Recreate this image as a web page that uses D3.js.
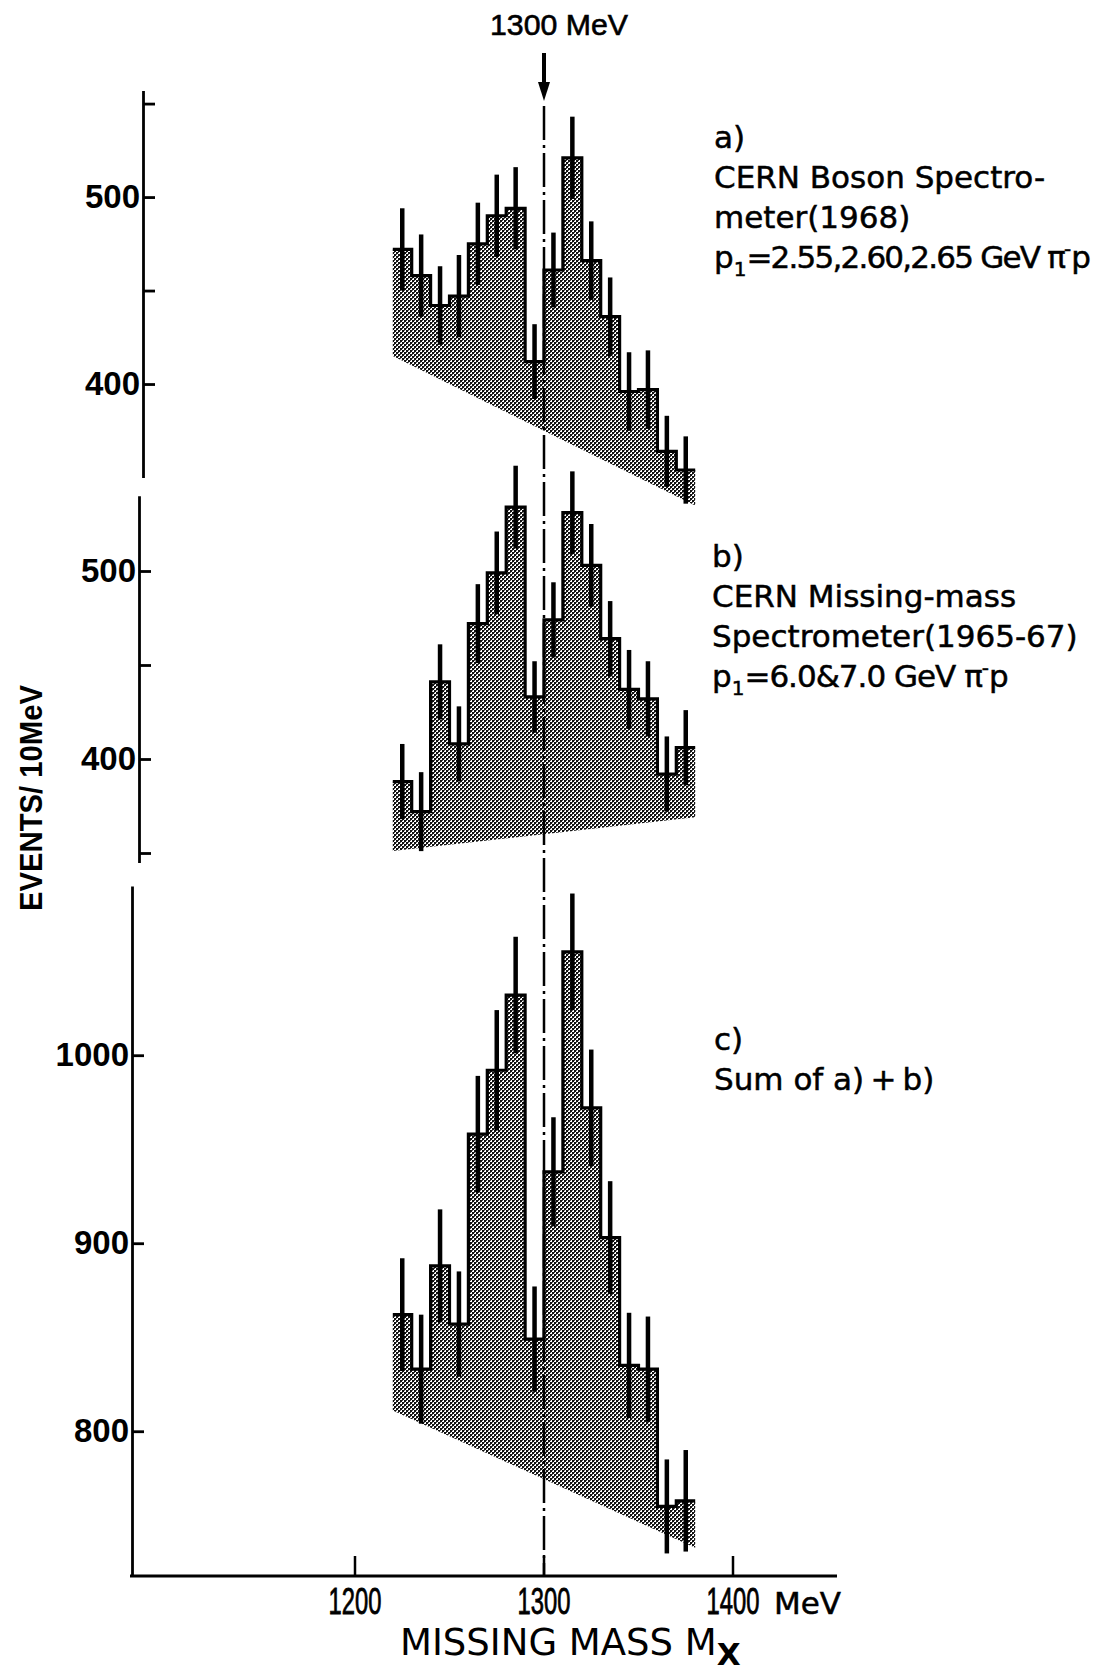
<!DOCTYPE html>
<html>
<head>
<meta charset="utf-8">
<script src="https://cdn.jsdelivr.net/npm/d3@7/dist/d3.min.js"></script>
<style>
    body { margin: 0; background: #fff; }
</style>
</head>
<body>
<div id="chart"></div>
<script>
// bin centres (MeV), 10 MeV bins
const massBins = [1225, 1235, 1245, 1255, 1265, 1275, 1285, 1295, 1305, 1315, 1325, 1335, 1345, 1355, 1365, 1375];
const binWidth = 10;

// a) CERN Boson Spectrometer
const eventsA = [472, 458, 442, 447, 475, 490, 494, 412, 461, 521, 466, 436, 396, 397, 364, 354];
const errorsA = [22, 22, 21, 22, 22, 22, 22, 20, 20, 22, 21, 21, 21, 21, 19, 18];
// b) CERN Missing-mass Spectrometer
const eventsB = [388, 372, 441, 408, 472, 499, 534, 433, 474, 531, 503, 464, 437, 432, 392, 406];
const errorsB = [20, 21, 20, 20, 21, 22, 22, 19, 20, 22, 22, 20, 21, 20, 20, 20];
// c) sum
const eventsC = [862, 833, 888, 857, 958, 992, 1032, 849, 938, 1055, 972, 903, 835, 833, 760, 763];
const errorsC = [30, 29, 30, 28, 31, 32, 31, 28, 29, 31, 31, 30, 28, 28, 25, 27];

// background lines, values at the two ends of the histogram
const backgroundMass = [1220, 1380];
const backgroundA = [415, 335];
const backgroundB = [351, 369];
const backgroundC = [811, 738];

const xTicks = [1200, 1300, 1400];
const markedMass = 1300;

const width = 1097;
const height = 1671;

const svg = d3.select("#chart")
    .append("svg")
    .attr("width", width)
    .attr("height", height)
    .style("background", "#fff");

const defs = svg.append("defs");
const pattern = defs.append("pattern")
    .attr("id", "halftone")
    .attr("patternUnits", "userSpaceOnUse")
    .attr("width", 4)
    .attr("height", 4);
pattern.append("rect").attr("x", 0).attr("y", 0).attr("width", 2).attr("height", 2).attr("fill", "#111");
pattern.append("rect").attr("x", 2).attr("y", 2).attr("width", 2).attr("height", 2).attr("fill", "#111");
pattern.append("rect").attr("x", 2).attr("y", 0).attr("width", 1).attr("height", 1).attr("fill", "#444");
pattern.append("rect").attr("x", 0).attr("y", 2).attr("width", 1).attr("height", 1).attr("fill", "#666");

const x = d3.scaleLinear().domain([1200, 1400]).range([355, 733]);
const xAxisY = 1576;

const panels = [
    {
        events: eventsA, errors: errorsA, background: backgroundA,
        y: d3.scaleLinear().domain([350, 557]).range([477.5, 90.5]),
        axisX: 143, ticks: [400, 450, 500, 550], labels: [400, 500]
    },
    {
        events: eventsB, errors: errorsB, background: backgroundB,
        y: d3.scaleLinear().domain([345, 540]).range([862.4, 495.8]),
        axisX: 139, ticks: [350, 400, 450, 500], labels: [400, 500]
    },
    {
        events: eventsC, errors: errorsC, background: backgroundC,
        y: d3.scaleLinear().domain([723, 1090]).range([1576, 886]),
        axisX: 132, ticks: [800, 900, 1000], labels: [800, 900, 1000]
    }
];

const numFont = "'Liberation Sans', Arial, sans-serif";
const textFont = "'DejaVu Sans', sans-serif";

panels.forEach(p => {
    const y = p.y;
    const g = svg.append("g");

    // shaded region between histogram and background line
    const bgScale = d3.scaleLinear().domain(backgroundMass).range(p.background);
    const steps = [];
    massBins.forEach((m, i) => {
        steps.push([x(m - binWidth / 2), y(p.events[i])]);
        steps.push([x(m + binWidth / 2), y(p.events[i])]);
    });
    const poly = steps.concat([
        [x(backgroundMass[1]), y(bgScale(backgroundMass[1]))],
        [x(backgroundMass[0]), y(bgScale(backgroundMass[0]))]
    ]);
    g.append("path")
        .attr("d", "M" + poly.map(d => d.join(",")).join("L") + "Z")
        .attr("fill", "url(#halftone)");

    // histogram outline
    const stepLine = d3.line().curve(d3.curveStepAfter);
    const stepPts = massBins.map((m, i) => [x(m - binWidth / 2), y(p.events[i])]);
    stepPts.push([x(massBins[massBins.length - 1] + binWidth / 2), y(p.events[p.events.length - 1])]);
    g.append("path")
        .attr("d", stepLine(stepPts))
        .attr("fill", "none")
        .attr("stroke", "#000")
        .attr("stroke-width", 3.2);

    // error bars
    g.selectAll("line.err")
        .data(massBins)
        .enter()
        .append("line")
        .attr("class", "err")
        .attr("x1", m => x(m))
        .attr("x2", m => x(m))
        .attr("y1", (m, i) => y(p.events[i] + p.errors[i]))
        .attr("y2", (m, i) => y(p.events[i] - p.errors[i]))
        .attr("stroke", "#000")
        .attr("stroke-width", 4.5);

    // y axis
    const axis = g.append("g")
        .attr("transform", `translate(${p.axisX},0)`)
        .call(d3.axisRight(y).tickValues(p.ticks).tickSize(12).tickSizeOuter(0).tickFormat(""));
    axis.select(".domain").attr("stroke-width", 2.8);
    axis.selectAll(".tick line").attr("stroke-width", 2.8);

    const labels = g.append("g")
        .attr("transform", `translate(${p.axisX},0)`)
        .call(d3.axisLeft(y).tickValues(p.labels).tickSize(0).tickPadding(3).tickFormat(d3.format("d")));
    labels.select(".domain").remove();
    labels.selectAll(".tick text")
        .attr("font-family", numFont)
        .attr("font-weight", "bold")
        .attr("font-size", 33)
        .attr("fill", "#000");
});

// x axis
const xAxis = svg.append("g")
    .attr("transform", `translate(0,${xAxisY})`);
xAxis.append("line")
    .attr("x1", 130).attr("x2", 837)
    .attr("stroke", "#000").attr("stroke-width", 3);
xAxis.selectAll("line.tick")
    .data(xTicks)
    .enter()
    .append("line")
    .attr("class", "tick")
    .attr("x1", d => x(d)).attr("x2", d => x(d))
    .attr("y1", 0).attr("y2", -20)
    .attr("stroke", "#000").attr("stroke-width", 2.5);
// condensed tick numbers
xAxis.selectAll("text.tick")
    .data(xTicks)
    .enter()
    .append("text")
    .attr("class", "tick")
    .attr("transform", d => `translate(${x(d)},38) scale(0.66,1)`)
    .attr("text-anchor", "middle")
    .attr("font-family", numFont)
    .attr("font-size", 36)
    .attr("stroke", "#000")
    .attr("stroke-width", 0.8)
    .text(d => d);
xAxis.append("text")
    .attr("x", x(1400) + 41)
    .attr("y", 38)
    .attr("font-family", textFont)
    .attr("font-size", 31)
    .attr("stroke", "#000")
    .attr("stroke-width", 0.5)
    .text("MeV");

const xTitle = svg.append("text")
    .attr("x", 400)
    .attr("y", 1655)
    .attr("font-family", textFont)
    .attr("font-size", 37)
    .attr("fill", "#000");
xTitle.append("tspan").text("MISSING MASS M");
xTitle.append("tspan").attr("dy", 10).attr("font-weight", "bold").attr("font-size", 31).text("X");

// y title
svg.append("text")
    .attr("transform", "translate(42,798) rotate(-90)")
    .attr("text-anchor", "middle")
    .attr("font-family", numFont)
    .attr("font-weight", "bold")
    .attr("font-size", 32)
    .attr("textLength", 226)
    .attr("lengthAdjust", "spacingAndGlyphs")
    .text("EVENTS/ 10MeV");

// 1300 MeV dash-dot marker line
svg.append("line")
    .attr("x1", x(markedMass)).attr("x2", x(markedMass))
    .attr("y1", 106).attr("y2", xAxisY)
    .attr("stroke", "#000")
    .attr("stroke-width", 2.5)
    .attr("stroke-dasharray", "34,5,3,5");

// arrow
svg.append("line")
    .attr("x1", x(markedMass)).attr("x2", x(markedMass))
    .attr("y1", 53).attr("y2", 86)
    .attr("stroke", "#000").attr("stroke-width", 4);
svg.append("path")
    .attr("d", `M${x(markedMass) - 6},82L${x(markedMass) + 6},82L${x(markedMass)},101Z`)
    .attr("fill", "#000");
svg.append("text")
    .attr("x", x(markedMass) + 15)
    .attr("y", 35)
    .attr("text-anchor", "middle")
    .attr("font-family", numFont)
    .attr("font-size", 30)
    .attr("stroke", "#000")
    .attr("stroke-width", 0.6)
    .attr("textLength", 138)
    .attr("lengthAdjust", "spacingAndGlyphs")
    .text("1300 MeV");

// annotations
const addNote = (x0, y0, lines) => {
    const t = svg.append("g")
        .attr("font-family", textFont)
        .attr("font-size", 31)
        .attr("fill", "#000")
        .attr("stroke", "#000")
        .attr("stroke-width", 0.5);
    lines.forEach((parts, i) => {
        const txt = t.append("text").attr("x", x0).attr("y", y0 + i * 40);
        parts.forEach(part => {
            const span = txt.append("tspan").text(part.s);
            if (part.tight) span.attr("letter-spacing", part.tight);
            if (part.sub) span.attr("font-size", 20).attr("dy", 8);
            if (part.sup) span.attr("font-size", 20).attr("dy", -12);
            if (part.back) span.attr("dy", part.back);
        });
    });
};

addNote(714, 148, [
    [{ s: "a)" }],
    [{ s: "CERN Boson Spectro-" }],
    [{ s: "meter(1968)" }],
    [{ s: "p" }, { s: "1", sub: true }, { s: "=2.55,2.60,2.65 GeV π", back: -8, tight: -1.8 }, { s: "-", sup: true }, { s: "p", back: 12 }]
]);
addNote(712, 567, [
    [{ s: "b)" }],
    [{ s: "CERN Missing-mass" }],
    [{ s: "Spectrometer(1965-67)" }],
    [{ s: "p" }, { s: "1", sub: true }, { s: "=6.0&7.0 GeV  π", back: -8, tight: -1 }, { s: "-", sup: true }, { s: "p", back: 12 }]
]);
addNote(714, 1050, [
    [{ s: "c)" }],
    [{ s: "Sum of a)\u2009+\u2009b)" }]
]);
</script>
</body>
</html>
